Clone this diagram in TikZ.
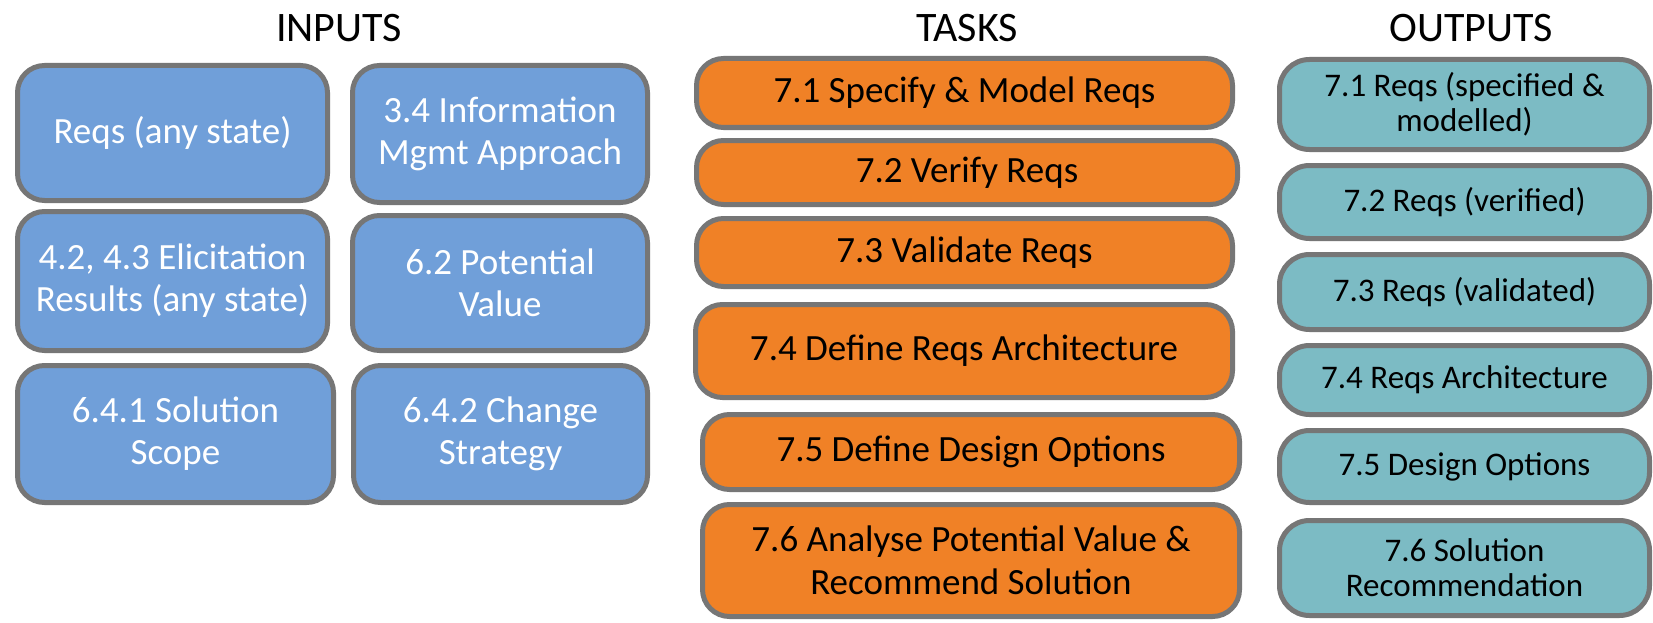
\documentclass[tikz,border=0pt]{standalone}
\usepackage{fontspec}
\setmainfont{Carlito}
\definecolor{inblue}{RGB}{112,159,217}
\definecolor{taskor}{RGB}{240,129,38}
\definecolor{outteal}{RGB}{124,187,196}
\definecolor{edgegray}{RGB}{118,118,118}
\tikzset{
  basebox/.style={draw=edgegray, line width=5pt, rounded corners=27pt, inner sep=0pt, align=center},
  inbox/.style={basebox, fill=inblue, text=white, font=\fontsize{37}{42}\selectfont},
  taskbox/.style={basebox, fill=taskor, text=black, font=\fontsize{37}{43}\selectfont},
  outbox/.style={basebox, fill=outteal, text=black, rounded corners=30pt, font=\fontsize{33}{35}\selectfont},
  coltitle/.style={anchor=base, inner sep=0pt, font=\fontsize{42}{46}\selectfont}
}
\begin{document}
\begin{tikzpicture}[x=1pt, y=-1pt]
\useasboundingbox[fill=white] (0,0) rectangle (1653,623);
% titles
\node[coltitle] (tin) at (339,42) {INPUTS};
\node[coltitle] (ttask) at (967,42) {TASKS};
\node[coltitle] (tout) at (1471,42) {OUTPUTS};
% inputs
\node[inbox, minimum width=310pt, minimum height=135pt] (a1) at (172.5,133) {Reqs (any state)};
\node[inbox, minimum width=295pt, minimum height=137pt] (a2) at (500,134) {3.4 Information\\Mgmt Approach};
\node[inbox, minimum width=310pt, minimum height=139pt] (b1) at (172.5,281) {4.2, 4.3 Elicitation\\Results (any state)};
\node[inbox, minimum width=295pt, minimum height=135pt] (b2) at (500,283) {6.2 Potential\\Value};
\node[inbox, minimum width=316pt, minimum height=137pt] (c1) at (175.5,434) {6.4.1 Solution\\Scope};
\node[inbox, minimum width=294pt, minimum height=137pt] (c2) at (500.5,434) {6.4.2 Change\\Strategy};
% tasks
\node[taskbox, minimum width=536pt, minimum height=69pt] (t1) at (964.5,93) {7.1 Specify \& Model Reqs};
\node[taskbox, minimum width=541pt, minimum height=64pt] (t2) at (967,172.5) {7.2 Verify Reqs};
\node[taskbox, minimum width=536pt, minimum height=68pt] (t3) at (964.5,252.5) {7.3 Validate Reqs};
\node[taskbox, minimum width=537pt, minimum height=93pt] (t4) at (964,351) {7.4 Define Reqs Architecture};
\node[taskbox, minimum width=537pt, minimum height=75pt] (t5) at (971,452) {7.5 Define Design Options};
\node[taskbox, minimum width=537pt, minimum height=112pt] (t6) at (971,560.5) {7.6 Analyse Potential Value \&\\Recommend Solution};
% outputs
\node[outbox, minimum width=370pt, minimum height=90pt] (o1) at (1464.5,104.5) {7.1 Reqs (specified \&\\modelled)};
\node[outbox, minimum width=370pt, minimum height=73pt] (o2) at (1464.5,202) {7.2 Reqs (verified)};
\node[outbox, minimum width=370pt, minimum height=75pt] (o3) at (1464.5,292) {7.3 Reqs (validated)};
\node[outbox, minimum width=370pt, minimum height=69pt] (o4) at (1464.5,380) {7.4 Reqs Architecture};
\node[outbox, minimum width=370pt, minimum height=72pt] (o5) at (1464.5,466.5) {7.5 Design Options};
\node[outbox, minimum width=370pt, minimum height=95pt] (o6) at (1464.5,568) {7.6 Solution\\Recommendation};
\end{tikzpicture}
\end{document}
